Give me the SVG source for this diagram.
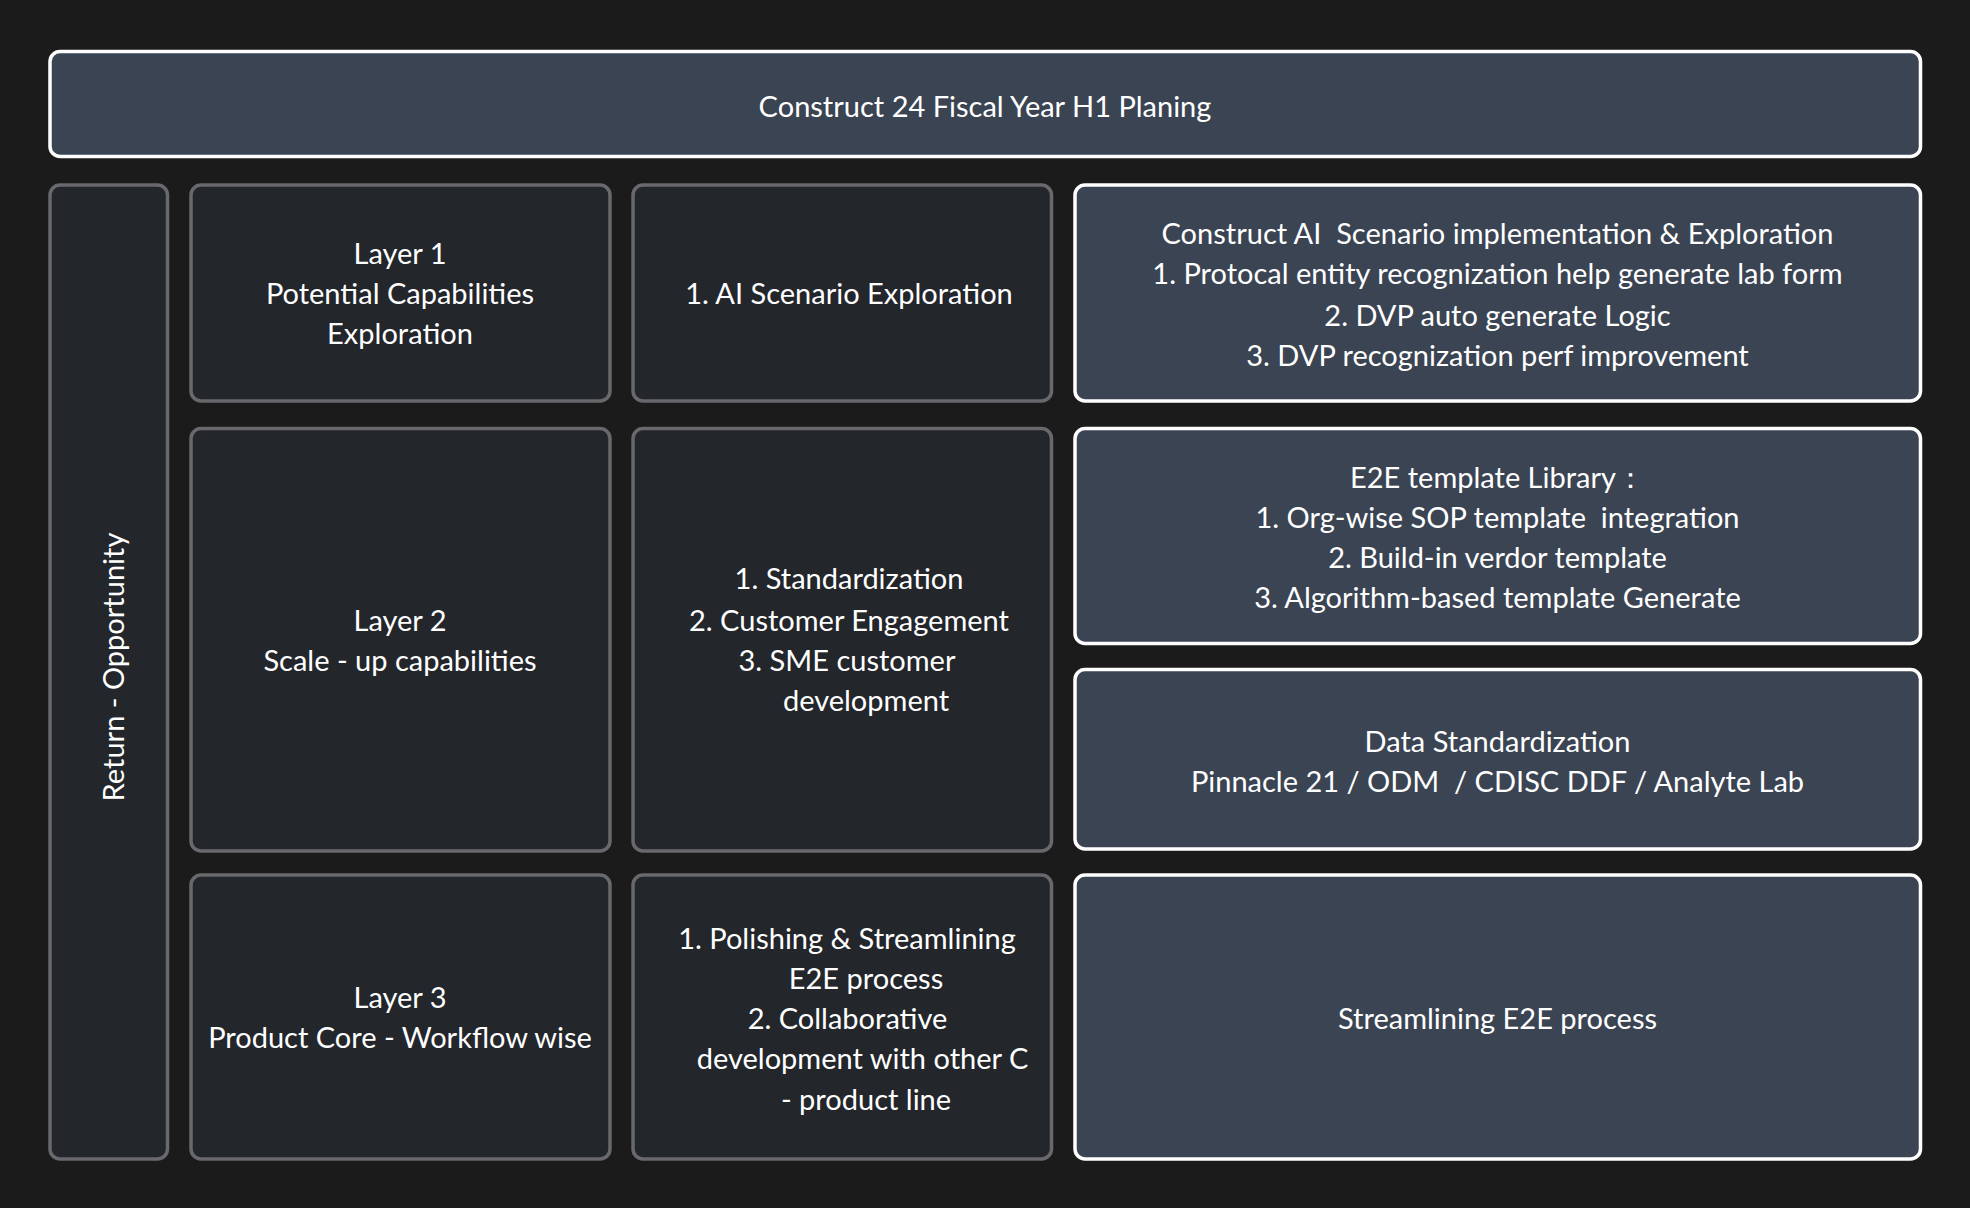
<svg xmlns="http://www.w3.org/2000/svg" width="1970" height="1208" viewBox="0 0 1970 1208">
  <style>
    .bg { fill: #1b1b1b; }
    .hi { fill: #3b4453; stroke: #ffffff; stroke-width: 3.5; }
    .lo { fill: #23262b; stroke: #68686d; stroke-width: 3.5; }
    text { font-family: "Lato", "Liberation Sans", sans-serif; font-size: 29px; fill: #ffffff; text-anchor: middle; dominant-baseline: central; white-space: pre; }
    text:not(.rot) { transform: translateY(-1.5px); }
  </style>
  <rect class="bg" x="0" y="0" width="1970" height="1208"/>

  <!-- header -->
  <g id="title">
    <rect class="hi" x="50" y="51.5" width="1870.5" height="105" rx="10"/>
    <text x="985" y="107">Construct 24 Fiscal Year H1 Planing</text>
  </g>

  <!-- vertical axis label -->
  <g id="axis">
    <rect class="lo" x="50" y="185" width="117.5" height="974" rx="10"/>
    <text class="rot" transform="translate(112 667) rotate(-90)">Return - Opportunity</text>
  </g>

  <!-- layer names -->
  <g id="layer1">
    <rect class="lo" x="191" y="185" width="419" height="216" rx="10"/>
    <text x="400" y="254">Layer 1</text>
    <text x="400" y="294">Potential Capabilities</text>
    <text x="400" y="334">Exploration</text>
  </g>
  <g id="layer2">
    <rect class="lo" x="191" y="428.5" width="419" height="422.5" rx="10"/>
    <text x="400" y="621">Layer 2</text>
    <text x="400" y="661">Scale - up capabilities</text>
  </g>
  <g id="layer3">
    <rect class="lo" x="191" y="875" width="419" height="284" rx="10"/>
    <text x="400" y="998">Layer 3</text>
    <text x="400" y="1038">Product Core - Workflow wise</text>
  </g>

  <!-- focus areas -->
  <g id="focus1">
    <rect class="lo" x="633" y="185" width="418.5" height="216" rx="10"/>
    <text x="849" y="294">1. AI Scenario Exploration</text>
  </g>
  <g id="focus2">
    <rect class="lo" x="633" y="428.5" width="418.5" height="422.5" rx="10"/>
    <text x="849" y="579">1. Standardization</text>
    <text x="849" y="621">2. Customer Engagement</text>
    <text x="847" y="661">3. SME customer</text>
    <text x="866" y="701">development</text>
  </g>
  <g id="focus3">
    <rect class="lo" x="633" y="875" width="418.5" height="284" rx="10"/>
    <text x="847" y="938.5">1. Polishing &amp; Streamlining</text>
    <text x="866" y="979">E2E process</text>
    <text x="847.5" y="1019">2. Collaborative</text>
    <text x="862.5" y="1059">development with other C</text>
    <text x="866" y="1099.5">- product line</text>
  </g>

  <!-- deliverables -->
  <g id="deliver1">
    <rect class="hi" x="1075" y="185" width="845.5" height="216" rx="10"/>
    <text x="1497.5" y="234">Construct AI  Scenario implementation &amp; Exploration</text>
    <text x="1497.5" y="274">1. Protocal entity recognization help generate lab form</text>
    <text x="1497.5" y="315.5">2. DVP auto generate Logic</text>
    <text x="1497.5" y="355.5">3. DVP recognization perf improvement</text>
  </g>
  <g id="deliver2a">
    <rect class="hi" x="1075" y="428.5" width="845.5" height="215" rx="10"/>
    <text x="1497.5" y="477.5">E2E template Library：</text>
    <text x="1497.5" y="517.5">1. Org-wise SOP template  integration</text>
    <text x="1497.5" y="558">2. Build-in verdor template</text>
    <text x="1497.5" y="598">3. Algorithm-based template Generate</text>
  </g>
  <g id="deliver2b">
    <rect class="hi" x="1075" y="669.5" width="845.5" height="179.5" rx="10"/>
    <text x="1497.5" y="741.5">Data Standardization</text>
    <text x="1497.5" y="781.5">Pinnacle 21 / ODM  / CDISC DDF / Analyte Lab</text>
  </g>
  <g id="deliver3">
    <rect class="hi" x="1075" y="875" width="845.5" height="284" rx="10"/>
    <text x="1497.5" y="1019">Streamlining E2E process</text>
  </g>

  <g id="connectors"/>
</svg>
